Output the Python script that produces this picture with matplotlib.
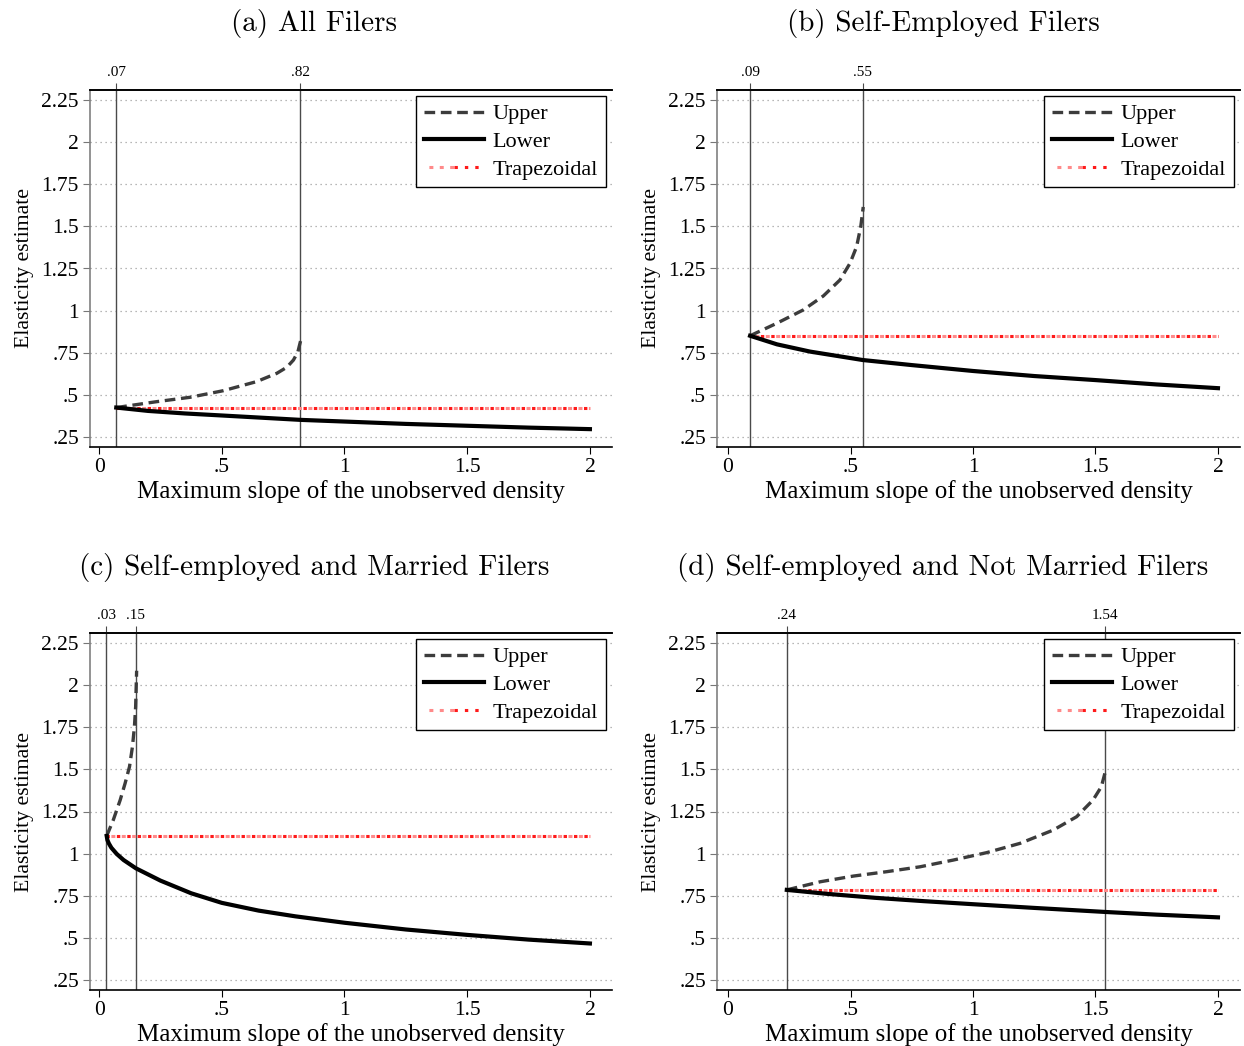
import matplotlib
matplotlib.use("Agg")
import matplotlib.pyplot as plt
from matplotlib.legend_handler import HandlerTuple

plt.rcParams["font.family"] = ["Liberation Serif", "DejaVu Serif"]

titles = [
    "(a) All Filers",
    "(b) Self-Employed Filers",
    "(c) Self-employed and Married Filers",
    "(d) Self-employed and Not Married Filers",
]

# (a) All filers
bounds_a = [0.07, 0.82]
bound_labels_a = [".07", ".82"]
upper_x_a = [0.07, 0.235, 0.371, 0.506, 0.642, 0.724, 0.765, 0.792, 0.81, 0.823]
upper_y_a = [0.425, 0.46, 0.486, 0.525, 0.579, 0.628, 0.664, 0.707, 0.755, 0.832]
lower_x_a = [0.07, 0.2, 0.35, 0.5, 0.82, 1.0, 1.25, 1.5, 1.75, 2.0]
lower_y_a = [0.425, 0.405, 0.39, 0.378, 0.352, 0.342, 0.328, 0.317, 0.306, 0.297]
trap_a = 0.425

# (b) Self-employed filers
bounds_b = [0.09, 0.55]
bound_labels_b = [".09", ".55"]
upper_x_b = [0.09, 0.199, 0.307, 0.389, 0.457, 0.498, 0.525, 0.542, 0.552]
upper_y_b = [0.851, 0.925, 1.004, 1.087, 1.182, 1.281, 1.38, 1.5, 1.615]
lower_x_b = [0.09, 0.2, 0.335, 0.55, 0.75, 1.0, 1.25, 1.5, 1.75, 2.0]
lower_y_b = [0.851, 0.80, 0.757, 0.707, 0.677, 0.642, 0.612, 0.588, 0.562, 0.54]
trap_b = 0.851

# (c) Self-employed and married filers
bounds_c = [0.03, 0.15]
bound_labels_c = [".03", ".15"]
upper_x_c = [0.031, 0.058, 0.086, 0.106, 0.124, 0.136, 0.144, 0.149, 0.153]
upper_y_c = [1.105, 1.20, 1.318, 1.417, 1.516, 1.635, 1.753, 1.872, 2.085]
lower_x_c = [0.031, 0.034, 0.04, 0.05, 0.072, 0.1, 0.15, 0.25, 0.375, 0.5, 0.65, 0.8, 1.0, 1.25, 1.5, 1.75, 2.0]
lower_y_c = [1.105, 1.08, 1.06, 1.035, 0.998, 0.962, 0.913, 0.84, 0.765, 0.708, 0.662, 0.628, 0.59, 0.55, 0.518, 0.49, 0.467]
trap_c = 1.105

# (d) Self-employed and not married filers
bounds_d = [0.24, 1.54]
bound_labels_d = [".24", "1.54"]
upper_x_d = [0.24, 0.376, 0.512, 0.648, 0.784, 0.92, 1.056, 1.192, 1.328, 1.423, 1.49, 1.524, 1.543]
upper_y_d = [0.785, 0.833, 0.867, 0.893, 0.922, 0.962, 1.006, 1.061, 1.14, 1.219, 1.318, 1.397, 1.502]
lower_x_d = [0.24, 0.4, 0.6, 0.8, 1.0, 1.25, 1.54, 1.75, 2.0]
lower_y_d = [0.785, 0.762, 0.738, 0.718, 0.700, 0.678, 0.654, 0.638, 0.622]
trap_d = 0.785

yticks = [0.25, 0.5, 0.75, 1, 1.25, 1.5, 1.75, 2, 2.25]
ytick_labels = [".25", ".5", ".75", "1", "1.25", "1.5", "1.75", "2", "2.25"]
xticks = [0, 0.5, 1, 1.5, 2]
xtick_labels = ["0", ".5", "1", "1.5", "2"]

panels = [
    (bounds_a, bound_labels_a, upper_x_a, upper_y_a, lower_x_a, lower_y_a, trap_a),
    (bounds_b, bound_labels_b, upper_x_b, upper_y_b, lower_x_b, lower_y_b, trap_b),
    (bounds_c, bound_labels_c, upper_x_c, upper_y_c, lower_x_c, lower_y_c, trap_c),
    (bounds_d, bound_labels_d, upper_x_d, upper_y_d, lower_x_d, lower_y_d, trap_d),
]

W, H = 1244, 1046
fig = plt.figure(figsize=(W / 100, H / 100), dpi=100)

# axes boxes in pixels: left, top, right, bottom
boxes = [(90, 90, 612, 447), (717, 90, 1240, 447), (90, 633, 612, 990), (717, 633, 1240, 990)]
xlims = [(-0.037, 2.09), (-0.045, 2.09), (-0.037, 2.09), (-0.045, 2.09)]
title_pos = [(314, 24), (943, 24), (314, 567), (943, 567)]

for i, (bounds, blabels, ux, uy, lx, ly, trap) in enumerate(panels):
    l, t, r, b = boxes[i]
    ax = fig.add_axes([l / W, 1 - b / H, (r - l) / W, (b - t) / H])

    # horizontal dotted grid
    for yv in yticks:
        ax.axhline(yv, color="#a0a0a0", lw=0.9, ls=(0, (1, 3)), zorder=0)

    for bx in bounds:
        ax.axvline(bx, color="#4a4a4a", lw=1.0, zorder=1)

    up, = ax.plot(ux, uy, color="#3c3c3c", lw=2.4, ls=(0, (3.2, 1.7)), zorder=3)
    lo, = ax.plot(lx, ly, color="black", lw=3.0, zorder=3)
    # two-tone dash-dot for the trapezoidal estimate
    tp1, = ax.plot([bounds[0], 2.0], [trap, trap], color="#ff8a8a", lw=2.2,
                   ls=(1.8, (1.3, 2.1)), zorder=2)
    tp2, = ax.plot([bounds[0], 2.0], [trap, trap], color="#ff1a1a", lw=2.2,
                   ls=(0, (1.1, 2.3)), zorder=2)

    ax.set_xlim(*xlims[i])
    ax.set_ylim(0.191, 2.309)
    ax.set_yticks(yticks)
    ax.set_yticklabels(ytick_labels)
    ax.set_xticks(xticks)
    ax.set_xticklabels(xtick_labels)
    ax.tick_params(axis="y", labelsize=15.5, length=5, color="#777777", pad=3)
    ax.tick_params(axis="x", labelsize=15.5, length=5, pad=3)

    ax.spines["right"].set_visible(False)
    ax.spines["left"].set_color("#808080")
    ax.spines["left"].set_linewidth(1.2)
    ax.spines["bottom"].set_linewidth(1.2)
    ax.spines["top"].set_linewidth(1.2)

    ax.set_xlabel("Maximum slope of the unobserved density", fontsize=18, labelpad=2)
    ax.set_ylabel("Elasticity estimate", fontsize=15.7, labelpad=5)

    top = ax.twiny()
    top.set_xlim(*xlims[i])
    top.set_xticks(bounds)
    top.set_xticklabels(blabels)
    top.tick_params(axis="x", labelsize=11, length=5, color="#4a4a4a", pad=3)
    top.spines["right"].set_visible(False)
    top.spines["left"].set_visible(False)
    top.spines["bottom"].set_visible(False)
    top.spines["top"].set_linewidth(1.2)

    leg = top.legend([up, lo, (tp1, tp2)], ["Upper", "Lower", "Trapezoidal"],
                     handler_map={tuple: HandlerTuple(ndivide=None, pad=0)},
                     loc="upper right", bbox_to_anchor=(1 - 6 / (r - l), 1 - 6 / (b - t)),
                     borderaxespad=0, fontsize=16, frameon=True, fancybox=False,
                     handlelength=2.7, handletextpad=0.4, labelspacing=0.32,
                     borderpad=0.35, framealpha=1)
    leg.get_frame().set_edgecolor("black")
    leg.get_frame().set_linewidth(1.0)

    tx, ty = title_pos[i]
    fig.text(tx / W, 1 - ty / H, titles[i], family="cmr10", fontsize=21,
             ha="center", va="center")

fig.savefig("out.png", dpi=100)
